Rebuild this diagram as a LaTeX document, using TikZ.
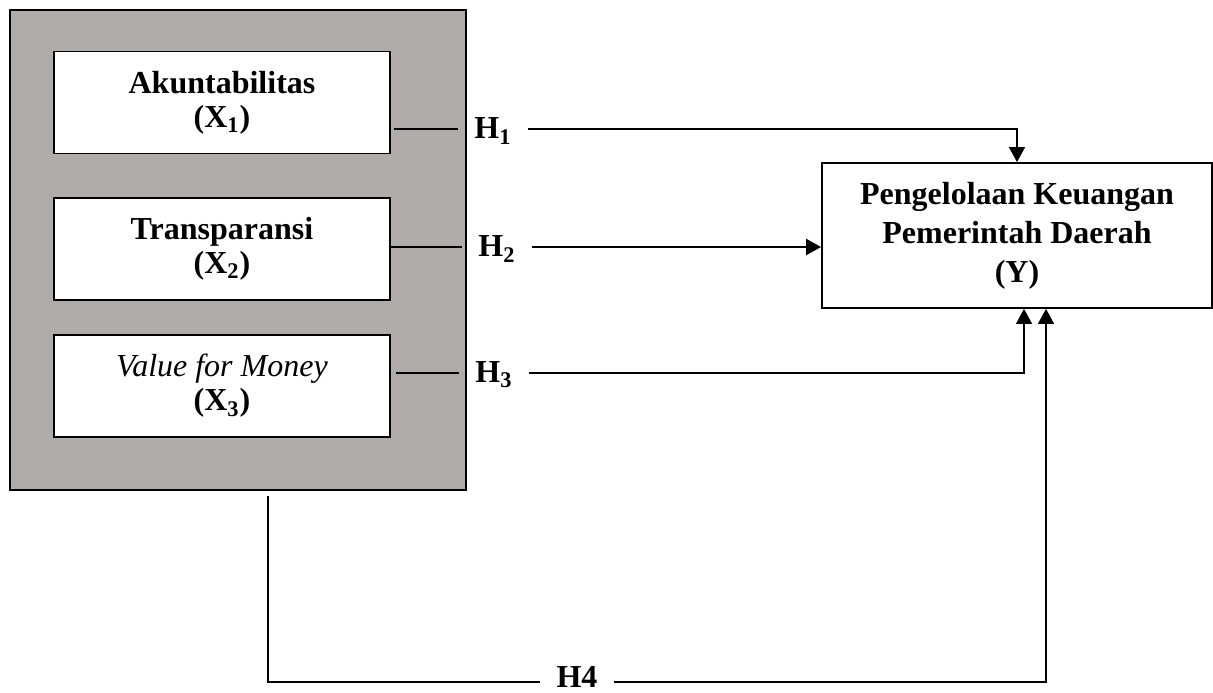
\documentclass[tikz,border=0pt]{standalone}
\usepackage{fontspec}
\setmainfont{Liberation Serif}
\usepackage{tikz}
\usetikzlibrary{positioning,arrows.meta,calc,shapes}
\definecolor{panelgray}{RGB}{176,172,170}
\tikzset{
    >={Triangle[length=7.5pt,width=8pt]},
    panel/.style = {
        draw,
        shape=rectangle,
        fill=panelgray,
        minimum width=228pt,
        minimum height=240pt,
        line width=1pt
    },
    varbox/.style = {
        draw,
        shape=rectangle,
        fill=white,
        align=center,
        minimum width=168pt,
        minimum height=51pt,
        line width=0.9pt,
        font=\fontsize{16}{17}\selectfont\bfseries
    },
    outcome/.style = {
        draw,
        shape=rectangle,
        align=center,
        minimum width=195pt,
        minimum height=72.5pt,
        line width=0.9pt,
        font=\fontsize{16}{19.5}\selectfont\bfseries
    },
    hypo/.style = {
        inner xsep=8pt,
        inner ysep=2pt,
        font=\fontsize{16}{19.5}\selectfont\bfseries
    },
    link/.style = {
        line width=0.6pt
    },
}

\begin{document}
\begin{tikzpicture}[x=0.5pt,y=-0.5pt]
            \useasboundingbox (0,0) rectangle (1213,692);

            \node[panel] (panel) at (238,250) {};
            \node[varbox] (akun) at (222,102.5) {Akuntabilitas\\(X\textsubscript{1})};
            \node[varbox] (trans) at (222,249) {Transparansi\\(X\textsubscript{2})};
            \node[varbox] (vfm) at (222,386) {\textit{\mdseries Value for Money}\\(X\textsubscript{3})};
            \node[outcome] (pkpd) at (1017,235.5) {Pengelolaan Keuangan\\Pemerintah Daerah\\(Y)};

            \node[hypo] (h1) at (493,131) {H\textsubscript{1}};
            \node[hypo] (h2) at (497,249) {H\textsubscript{2}};
            \node[hypo] (h3) at (494,375) {H\textsubscript{3}};
            \node[hypo] (h4) at (577,677) {H4};
            \coordinate (h1y) at (0,129);
            \coordinate (h2y) at (0,247);
            \coordinate (h3y) at (0,373);
            \coordinate (h4y) at (0,682);

            \path[draw, link] ([xshift=1.5pt]akun.east |- h1y) -- (h1.west |- h1y);
            \path[draw, link, ->] (h1.east |- h1y) -| (pkpd.north);
            \path[draw, link] (trans.east |- h2y) -- (h2.west |- h2y);
            \path[draw, ->, line width=1pt] (h2.east |- h2y) -- (pkpd.west |- h2y);
            \path[draw, link] ([xshift=2.5pt]vfm.east |- h3y) -- (h3.west |- h3y);
            \path[draw, link, ->] (h3.east |- h3y) -| ([xshift=3.5pt]pkpd.south);

            \path[draw, link, line width=0.8pt] ([xshift=15pt,yshift=-2.5pt]panel.south) |- (h4.west |- h4y);
            \path[draw, link, line width=0.8pt, ->] (h4.east |- h4y) -| ([xshift=14.5pt]pkpd.south);

        \end{tikzpicture}
\end{document}
